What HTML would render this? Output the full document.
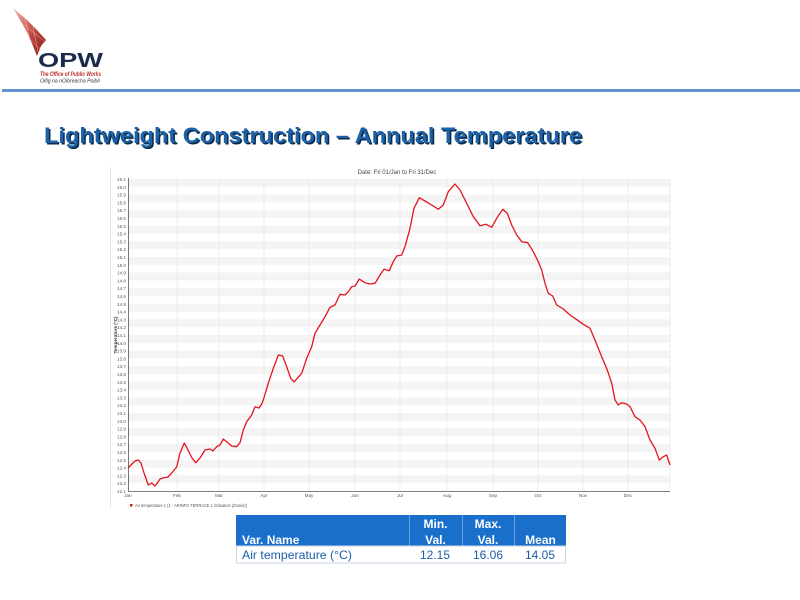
<!DOCTYPE html>
<html><head><meta charset="utf-8"><style>
html,body{margin:0;padding:0;background:#fff;}
svg{display:block;}
</style></head><body>
<svg width="800" height="600" viewBox="0 0 800 600" xmlns="http://www.w3.org/2000/svg" font-family="Liberation Sans, sans-serif">
<defs>
<linearGradient id="fan" x1="0" y1="0" x2="1" y2="1">
<stop offset="0" stop-color="#f0c0b8"/>
<stop offset="0.5" stop-color="#c85048"/>
<stop offset="1" stop-color="#8a1a18"/>
</linearGradient>
</defs>
<rect width="800" height="600" fill="#fff"/>
<!-- logo -->
<polygon points="13,8 26,19 36,29 46,40 41,46 37,56 33,46 27,32" fill="url(#fan)"/>
<g stroke="#fff" stroke-width="0.5" opacity="0.6">
<line x1="24" y1="14" x2="33" y2="54"/><line x1="32" y1="22" x2="38" y2="52"/>
<line x1="18" y1="20" x2="44" y2="41"/><line x1="24" y1="34" x2="40" y2="49"/>
</g>
<text x="38" y="67" font-size="20" font-weight="bold" fill="#1c2b4c" textLength="65" lengthAdjust="spacingAndGlyphs">OPW</text>
<text x="40" y="76" font-size="6" font-style="italic" font-weight="bold" fill="#c0302a" textLength="61" lengthAdjust="spacingAndGlyphs">The Office of Public Works</text>
<text x="40" y="82.5" font-size="5.5" font-style="italic" fill="#333" textLength="60" lengthAdjust="spacingAndGlyphs">Oifig na nOibreacha Poiblí</text>
<rect x="2" y="89" width="798" height="3" fill="#6494d0"/>
<!-- title -->
<text x="45.5" y="144.5" font-size="22" font-weight="bold" fill="#0b2a4a" textLength="538" lengthAdjust="spacingAndGlyphs">Lightweight Construction – Annual Temperature</text>
<text x="44" y="143" font-size="22" font-weight="bold" fill="#1d62a8" textLength="538" lengthAdjust="spacingAndGlyphs">Lightweight Construction – Annual Temperature</text>
<!-- chart frame -->
<line x1="110.5" y1="167" x2="110.5" y2="508" stroke="#e4e4e4" stroke-width="1"/>
<text x="397" y="174" font-size="6" fill="#444" text-anchor="middle">Date: Fri 01/Jan to Fri 31/Dec</text>
<!-- bands -->
<g fill="#f4f4f4">
<rect x="128" y="179" width="542" height="7.8"/><rect x="128" y="194.6" width="542" height="7.8"/><rect x="128" y="210.2" width="542" height="7.8"/><rect x="128" y="225.8" width="542" height="7.8"/><rect x="128" y="241.4" width="542" height="7.8"/><rect x="128" y="257" width="542" height="7.8"/><rect x="128" y="272.6" width="542" height="7.8"/><rect x="128" y="288.2" width="542" height="7.8"/><rect x="128" y="303.8" width="542" height="7.8"/><rect x="128" y="319.4" width="542" height="7.8"/><rect x="128" y="335" width="542" height="7.8"/><rect x="128" y="350.6" width="542" height="7.8"/><rect x="128" y="366.2" width="542" height="7.8"/><rect x="128" y="381.8" width="542" height="7.8"/><rect x="128" y="397.4" width="542" height="7.8"/><rect x="128" y="413" width="542" height="7.8"/><rect x="128" y="428.6" width="542" height="7.8"/><rect x="128" y="444.2" width="542" height="7.8"/><rect x="128" y="459.8" width="542" height="7.8"/><rect x="128" y="475.4" width="542" height="7.8"/>
</g>
<!-- vertical grid -->
<g stroke="#e6e6e6" stroke-width="0.7">
<line x1="177" y1="179" x2="177" y2="491"/><line x1="219" y1="179" x2="219" y2="491"/><line x1="264" y1="179" x2="264" y2="491"/><line x1="309" y1="179" x2="309" y2="491"/><line x1="355" y1="179" x2="355" y2="491"/><line x1="400" y1="179" x2="400" y2="491"/><line x1="447" y1="179" x2="447" y2="491"/><line x1="493" y1="179" x2="493" y2="491"/><line x1="538" y1="179" x2="538" y2="491"/><line x1="583" y1="179" x2="583" y2="491"/><line x1="628" y1="179" x2="628" y2="491"/><line x1="670" y1="179" x2="670" y2="491"/>
</g>
<!-- axes -->
<line x1="128.5" y1="178" x2="128.5" y2="491" stroke="#555" stroke-width="0.8"/>
<line x1="128" y1="491.5" x2="670" y2="491.5" stroke="#555" stroke-width="0.8"/>
<g font-size="4.6" fill="#555" text-anchor="end">
<text x="126" y="181">16.1</text><text x="126" y="188.8">16.0</text><text x="126" y="196.6">15.9</text><text x="126" y="204.4">15.8</text><text x="126" y="212.2">15.7</text><text x="126" y="220">15.6</text><text x="126" y="227.8">15.5</text><text x="126" y="235.6">15.4</text><text x="126" y="243.4">15.3</text><text x="126" y="251.2">15.2</text><text x="126" y="259">15.1</text><text x="126" y="266.8">15.0</text><text x="126" y="274.6">14.9</text><text x="126" y="282.4">14.8</text><text x="126" y="290.2">14.7</text><text x="126" y="298">14.6</text><text x="126" y="305.8">14.5</text><text x="126" y="313.6">14.4</text><text x="126" y="321.4">14.3</text><text x="126" y="329.2">14.2</text><text x="126" y="337">14.1</text><text x="126" y="344.8">14.0</text><text x="126" y="352.6">13.9</text><text x="126" y="360.4">13.8</text><text x="126" y="368.2">13.7</text><text x="126" y="376">13.6</text><text x="126" y="383.8">13.5</text><text x="126" y="391.6">13.4</text><text x="126" y="399.4">13.3</text><text x="126" y="407.2">13.2</text><text x="126" y="415">13.1</text><text x="126" y="422.8">13.0</text><text x="126" y="430.6">12.9</text><text x="126" y="438.4">12.8</text><text x="126" y="446.2">12.7</text><text x="126" y="454">12.6</text><text x="126" y="461.8">12.5</text><text x="126" y="469.6">12.4</text><text x="126" y="477.4">12.3</text><text x="126" y="485.2">12.2</text><text x="126" y="493">12.1</text>
</g>
<g font-size="4.6" fill="#555" text-anchor="middle">
<text x="128" y="497">Jan</text><text x="177" y="497">Feb</text><text x="219" y="497">Mar</text><text x="264" y="497">Apr</text><text x="309" y="497">May</text><text x="355" y="497">Jun</text><text x="400" y="497">Jul</text><text x="447" y="497">Aug</text><text x="493" y="497">Sep</text><text x="538" y="497">Oct</text><text x="583" y="497">Nov</text><text x="628" y="497">Dec</text>
</g>
<text transform="translate(117,335) rotate(-90)" font-size="4.6" font-weight="bold" fill="#333" text-anchor="middle">Temperature (°C)</text>
<!-- series -->
<polyline fill="none" stroke="#e4141c" stroke-width="1.3" stroke-linejoin="round" points="128,468 131,465 135,461 138.3,460 141,463 144,473 148.3,485 151.7,483 155,486 158,482 160,479 163,478 168,477 171.7,473 176.7,467 180,453 184.3,443 188,450 192,458 195.7,462.7 200,458 205,450 210,449 213,451 216.7,446.7 220,445 223.3,439 226.7,441.7 231.7,446 236.7,446.7 240,442.7 243.3,430 246.7,421.7 251.7,415 255,406.7 259,408 261.7,404 263.3,400 268.3,383.3 273.3,368.3 278.3,355 282.7,356 286.7,366.7 290.7,378.3 294,382 297.3,378.3 301.7,373.3 306.7,358.3 311.7,346.7 315,333.3 320,325 325,316.7 330,307.3 335,305 340,294.3 345,295 348.3,291.7 351.7,286.7 355,286 359.3,279 365,282.7 370,284 375,283.3 380,275 384,269.3 389.3,270.7 393.3,261.7 396.7,256 401.7,255 405,246.7 410,228.3 414,208.3 419.3,197.7 425,201 431.7,205 438.3,209.3 443.3,205 448.3,191.7 455,184 460,190 466.7,203.3 473.3,216.7 480,225.7 486,224.3 491.7,227.3 496.7,218.3 502.7,209.3 507.3,213.3 511.7,225 516.7,235 521.7,241.7 527.7,242.7 533.3,251.7 538.3,261.7 541.7,270 545,283.3 548.3,293.3 552.7,296 556.7,305 563.3,309 570,315 578.3,320.7 583.3,324.3 590,328.3 595,340 601.7,356.7 607.3,370 611.7,383.3 615,400 618.3,405 621.7,402.7 626.7,404 630,406.7 635,416.7 640,420 645,426.7 650,440 655,448.3 659.3,460 663.3,456.7 666.7,455 670,465"/>
<!-- legend -->
<rect x="130" y="504" width="2.5" height="2.5" fill="#e0151d"/>
<text x="135" y="507" font-size="4.4" fill="#555" textLength="112" lengthAdjust="spacingAndGlyphs">Air temperature 1 (1 - ARINFO TERRACE 1 /Situation (Zones))</text>
<!-- table -->
<rect x="236" y="515" width="330" height="31" fill="#1a6fcb"/>
<rect x="236.5" y="546" width="329" height="17" fill="#fff" stroke="#c9d6e6" stroke-width="1"/>
<g stroke="#ffffff" stroke-opacity="0.35" stroke-width="1">
<line x1="409.5" y1="515" x2="409.5" y2="546"/><line x1="462.5" y1="515" x2="462.5" y2="546"/><line x1="514.5" y1="515" x2="514.5" y2="546"/>
</g>
<g font-size="12" font-weight="bold" fill="#fff">
<text x="242" y="544">Var. Name</text>
<text x="435.5" y="528" text-anchor="middle">Min.</text>
<text x="435.5" y="544" text-anchor="middle">Val.</text>
<text x="488" y="528" text-anchor="middle">Max.</text>
<text x="488" y="544" text-anchor="middle">Val.</text>
<text x="540.5" y="544" text-anchor="middle">Mean</text>
</g>
<g font-size="12" fill="#1a5ea8">
<text x="242" y="559" textLength="110" lengthAdjust="spacingAndGlyphs">Air temperature (°C)</text>
<text x="450" y="559" text-anchor="end">12.15</text>
<text x="503" y="559" text-anchor="end">16.06</text>
<text x="555" y="559" text-anchor="end">14.05</text>
</g>
</svg>
</body></html>
